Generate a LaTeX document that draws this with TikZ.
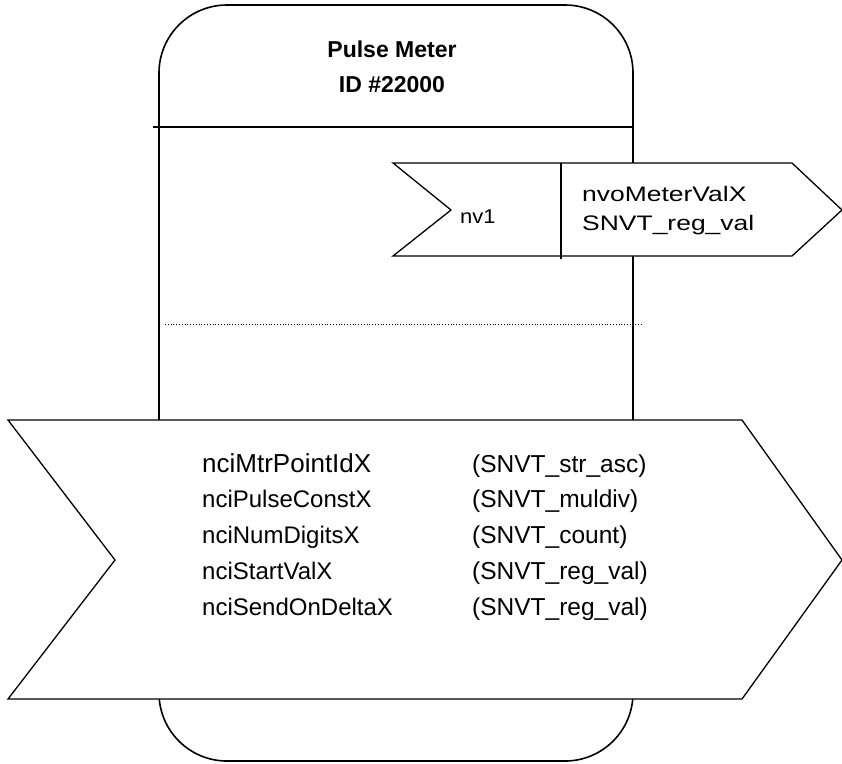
\documentclass[tikz,border=0pt]{standalone}
\usepackage{graphicx}
\usepackage{fontspec}
\setmainfont{Liberation Sans}
\tikzset{
  label text/.style={inner sep=0pt, anchor=base west},
  arrow box/.style={draw, fill=white, line width=1.3pt, line join=miter}
}
\newcommand{\txt}[1]{\fontsize{#1}{#1}\selectfont}
\newcommand{\wide}[2][1.26]{\scalebox{#1}[1]{#2}}

\begin{document}
\begin{tikzpicture}[x=1pt, y=-1pt]
\useasboundingbox (0,0) rectangle (842,763);
% Device block
    \node[draw, line width=1.6pt, rounded corners=68pt, minimum width=474pt,
          minimum height=756pt, inner sep=0pt] (meter) at (396,383) {};
    \draw[line width=1.6pt] (153,127) -- (meter.east |- 0,127);
    \draw[dotted, line width=0.8pt] (165,324) -- (643,324);
    \node[inner sep=0pt, anchor=base, font=\bfseries\txt{23}] (title) at (392,57) {Pulse Meter};
    \node[inner sep=0pt, anchor=base, font=\bfseries\txt{23}] (ident) at (392,92) {ID \#22000};
% Output network variable
    \draw[arrow box] (393,163) -- (792,163) -- (842,210) -- (792,256) -- (393,256)
        -- (451,210) -- cycle;
    \draw[line width=1.3pt] (561,163) -- (561,259);
    \node[label text, font=\txt{20}] (nvnum) at (460,223) {\wide[1.1]{nv1}};
    \node[label text, font=\txt{21}] (nvname) at (582,201) {\wide{nvoMeterValX}};
    \node[label text, font=\txt{21}] (nvtype) at (582,230) {\wide{SNVT\_reg\_val}};
% Configuration properties
    \draw[arrow box] (8,420) -- (742,420) -- (842,560) -- (742,699) -- (8,699)
        -- (115,560) -- cycle;
    \node[label text, font=\txt{26}] (cp1) at (202,472) {nciMtrPointIdX};
    \node[label text, font=\txt{24}] (cp2) at (202,507) {nciPulseConstX};
    \node[label text, font=\txt{24}] (cp3) at (202,543) {nciNumDigitsX};
    \node[label text, font=\txt{24}] (cp4) at (202,579) {nciStartValX};
    \node[label text, font=\txt{24}] (cp5) at (202,615) {nciSendOnDeltaX};
    \node[label text, font=\txt{24.5}] (ty1) at (472,472) {(SNVT\_str\_asc)};
    \node[label text, font=\txt{24.5}] (ty2) at (472,507) {(SNVT\_muldiv)};
    \node[label text, font=\txt{24.5}] (ty3) at (472,543) {(SNVT\_count)};
    \node[label text, font=\txt{24.5}] (ty4) at (472,579) {(SNVT\_reg\_val)};
    \node[label text, font=\txt{24.5}] (ty5) at (472,615) {(SNVT\_reg\_val)};
\end{tikzpicture}
\end{document}
